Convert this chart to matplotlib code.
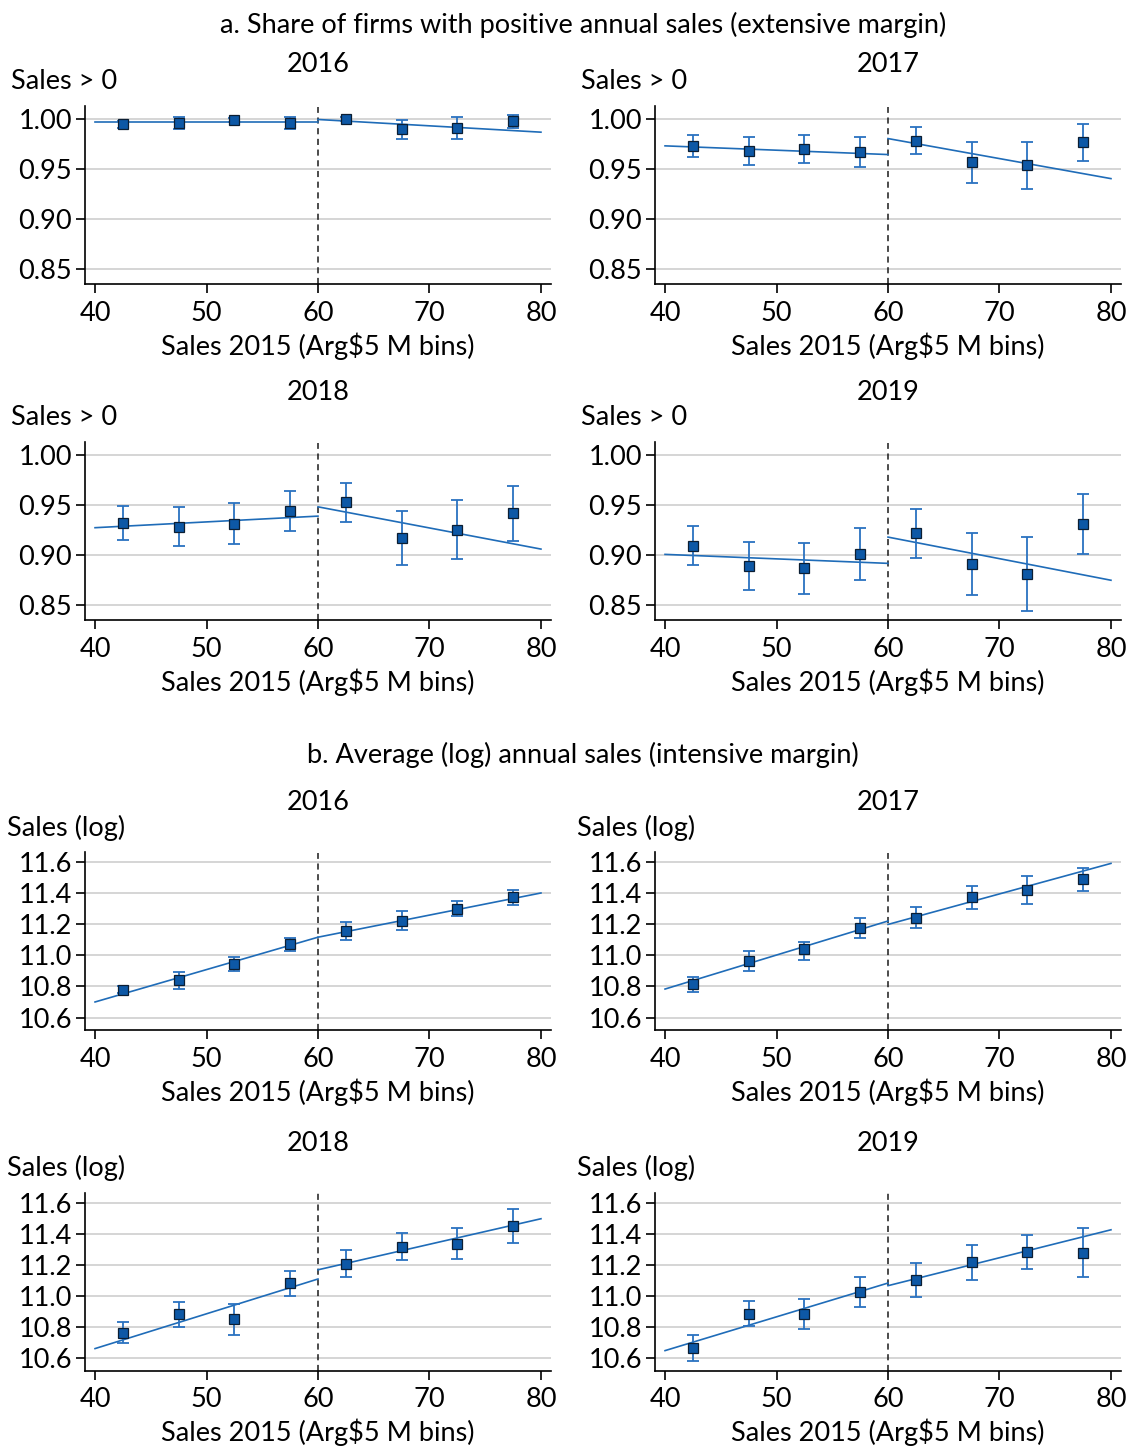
import numpy as np
import matplotlib
matplotlib.use("Agg")
import matplotlib.pyplot as plt

plt.rcParams['font.family'] = ['Lato', 'DejaVu Sans']
FS = 19.5
plt.rcParams['font.size'] = FS

W, H = 1129, 1446

# bin midpoints of 2015 sales (Arg$ millions)
bins = [42.5, 47.5, 52.5, 57.5, 62.5, 67.5, 72.5, 77.5]
cutoff = 60
years = [2016, 2017, 2018, 2019]

# panel a: share of firms with sales > 0
ext_2016_mean = [0.995, 0.996, 0.999, 0.996, 1.000, 0.990, 0.991, 0.998]
ext_2016_lo = [0.991, 0.990, 0.997, 0.990, 0.998, 0.980, 0.980, 0.991]
ext_2016_hi = [0.998, 1.002, 1.001, 1.002, 1.002, 0.999, 1.002, 1.004]
ext_2016_fit = [(0.997, 0.997), (0.9997, 0.987)]

ext_2017_mean = [0.9736, 0.9686, 0.970, 0.967, 0.978, 0.957, 0.954, 0.977]
ext_2017_lo = [0.9623, 0.954, 0.956, 0.952, 0.965, 0.9365, 0.9305, 0.9586]
ext_2017_hi = [0.9846, 0.982, 0.984, 0.982, 0.992, 0.9776, 0.9776, 0.9953]
ext_2017_fit = [(0.9733, 0.9646), (0.9806, 0.9405)]

ext_2018_mean = [0.9319, 0.9286, 0.9312, 0.944, 0.9527, 0.9168, 0.9256, 0.942]
ext_2018_lo = [0.9152, 0.9087, 0.9106, 0.924, 0.9328, 0.8897, 0.896, 0.914]
ext_2018_hi = [0.9487, 0.948, 0.9523, 0.9637, 0.9724, 0.9437, 0.955, 0.969]
ext_2018_fit = [(0.9274, 0.939), (0.9483, 0.906)]

ext_2019_mean = [0.9095, 0.8893, 0.8866, 0.9007, 0.922, 0.891, 0.881, 0.9308]
ext_2019_lo = [0.890, 0.8655, 0.861, 0.8746, 0.8967, 0.8605, 0.8445, 0.9007]
ext_2019_hi = [0.9288, 0.9134, 0.912, 0.9268, 0.9465, 0.9217, 0.9177, 0.9609]
ext_2019_fit = [(0.9007, 0.8917), (0.918, 0.8748)]

# panel b: average log sales
int_2016_mean = [10.778, 10.839, 10.946, 11.071, 11.155, 11.221, 11.300, 11.372]
int_2016_lo = [10.755, 10.785, 10.900, 11.028, 11.095, 11.160, 11.250, 11.322]
int_2016_hi = [10.804, 10.890, 10.987, 11.114, 11.213, 11.282, 11.350, 11.420]
int_2016_fit = [(10.700, 11.116), (11.116, 11.400)]

int_2017_mean = [10.813, 10.963, 11.039, 11.172, 11.240, 11.372, 11.417, 11.488]
int_2017_lo = [10.762, 10.900, 10.972, 11.114, 11.174, 11.295, 11.330, 11.413]
int_2017_hi = [10.862, 11.027, 11.086, 11.240, 11.307, 11.445, 11.507, 11.560]
int_2017_fit = [(10.783, 11.220), (11.198, 11.590)]

int_2018_mean = [10.764, 10.881, 10.851, 11.081, 11.208, 11.317, 11.334, 11.451]
int_2018_lo = [10.696, 10.800, 10.749, 11.000, 11.123, 11.230, 11.236, 11.340]
int_2018_hi = [10.832, 10.959, 10.951, 11.161, 11.294, 11.404, 11.436, 11.560]
int_2018_fit = [(10.662, 11.109), (11.168, 11.496)]

int_2019_mean = [10.666, 10.885, 10.885, 11.023, 11.104, 11.215, 11.285, 11.279]
int_2019_lo = [10.583, 10.804, 10.789, 10.928, 10.996, 11.104, 11.176, 11.123]
int_2019_hi = [10.747, 10.968, 10.983, 11.119, 11.214, 11.325, 11.394, 11.434]
int_2019_fit = [(10.649, 11.083), (11.066, 11.425)]

ext_panels = [
    (ext_2016_mean, ext_2016_lo, ext_2016_hi, ext_2016_fit),
    (ext_2017_mean, ext_2017_lo, ext_2017_hi, ext_2017_fit),
    (ext_2018_mean, ext_2018_lo, ext_2018_hi, ext_2018_fit),
    (ext_2019_mean, ext_2019_lo, ext_2019_hi, ext_2019_fit),
]
int_panels = [
    (int_2016_mean, int_2016_lo, int_2016_hi, int_2016_fit),
    (int_2017_mean, int_2017_lo, int_2017_hi, int_2017_fit),
    (int_2018_mean, int_2018_lo, int_2018_hi, int_2018_fit),
    (int_2019_mean, int_2019_lo, int_2019_hi, int_2019_fit),
]

line_col = '#1f6cb8'
mark_col = '#0d58a6'

fig = plt.figure(figsize=(W / 100, H / 100), dpi=100)


def px(x, y):
    return x / W, 1 - y / H


def draw(ax, mean, lo, hi, fit, ylim, yticks, fmt):
    mean = np.array(mean)
    err = [mean - np.array(lo), np.array(hi) - mean]
    ax.set_xlim(39.1, 80.9)
    ax.set_ylim(*ylim)
    ax.set_yticks(yticks)
    ax.set_yticklabels([fmt.format(t) for t in yticks])
    ax.set_xticks([40, 50, 60, 70, 80])
    ax.grid(axis='y', color='#d2d2d2', lw=1.3)
    ax.set_axisbelow(True)
    for s in ['top', 'right']:
        ax.spines[s].set_visible(False)
    for s in ['left', 'bottom']:
        ax.spines[s].set_linewidth(1.2)
    ax.tick_params(direction='out', length=6.5, width=1.2, labelsize=FS)
    ax.tick_params(axis='y', pad=3)
    ax.tick_params(axis='x', pad=5.5)
    ax.plot([40, cutoff], fit[0], color=line_col, lw=1.2, zorder=3)
    ax.plot([cutoff, 80], fit[1], color=line_col, lw=1.2, zorder=3)
    ax.axvline(cutoff, color='#1a1a1a', lw=1.1, ls=(0, (4, 3)), zorder=2)
    ax.errorbar(bins, mean, yerr=err, fmt='none', ecolor='#2a72c0', elinewidth=1.3,
                capsize=4.5, capthick=1.3, zorder=4)
    ax.plot(bins, mean, 's', ms=6.8, mfc=mark_col, mec='#0b1e33', mew=0.9, zorder=5)


col_left = [85, 655]
ax_w = 466
row_bottom = [284, 620, 1030, 1370.7]
ax_h = 177.5

for k in range(4):
    r, c = divmod(k, 2)
    x0 = col_left[c]
    for block, panels in [(0, ext_panels), (1, int_panels)]:
        row = block * 2 + r
        yb = row_bottom[row]
        l, b = px(x0, yb)
        ax = fig.add_axes([l, b, ax_w / W, ax_h / H])
        m, lo, hi, fit = panels[k]
        if block == 0:
            draw(ax, m, lo, hi, fit, (0.835, 1.0127), [0.85, 0.90, 0.95, 1.00], '{:.2f}')
            ylab = 'Sales > 0'
            lx = x0 - 74
        else:
            draw(ax, m, lo, hi, fit, (10.52, 11.66), [10.6, 10.8, 11.0, 11.2, 11.4, 11.6], '{:.1f}')
            ylab = 'Sales (log)'
            lx = x0 - 78
        cx = x0 + ax_w / 2
        top = yb - ax_h
        ty = top - 42 if row == 0 else top - 50
        fig.text(*px(cx, ty), str(years[k]), ha='center', va='center', fontsize=FS)
        fig.text(*px(lx, top - 25), ylab, ha='left', va='center', fontsize=FS)
        fig.text(*px(cx, yb + 62), 'Sales 2015 (Arg$5 M bins)', ha='center', va='center', fontsize=FS)

fig.text(*px(583, 25), 'a. Share of firms with positive annual sales (extensive margin)',
         ha='center', va='center', fontsize=FS)
fig.text(*px(583, 755), 'b. Average (log) annual sales (intensive margin)',
         ha='center', va='center', fontsize=FS)

fig.savefig('out.png', dpi=100)
